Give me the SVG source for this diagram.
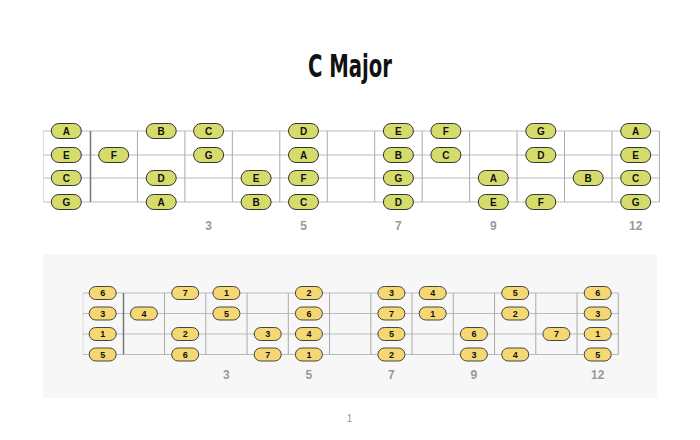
<svg xmlns="http://www.w3.org/2000/svg" width="700" height="440" viewBox="0 0 700 440">
<style>
.title{font-family:"DejaVu Sans Condensed","Liberation Sans Narrow","Liberation Sans",sans-serif;font-stretch:condensed;font-weight:bold;font-size:32px;fill:#111;text-anchor:middle}
.str{stroke:#bbb;stroke-width:1}
.fret{stroke:#aaa;stroke-width:1}
.nut{stroke:#777;stroke-width:1.5}
.end{stroke:#ddd;stroke-width:1}
.fn{font-family:"Liberation Sans",Arial,sans-serif;font-weight:bold;font-size:12px;fill:#999;text-anchor:middle}
.pa rect{fill:#d6dc6c;stroke:#333;stroke-width:1}
.pa text{font-family:"Liberation Sans",Arial,sans-serif;font-weight:bold;font-size:10px;fill:#111;text-anchor:middle}
.pb rect{fill:#f6d873;stroke:#444;stroke-width:1}
.pb text{font-family:"Liberation Sans",Arial,sans-serif;font-weight:bold;font-size:9px;fill:#111;text-anchor:middle}
.pg{font-family:"Liberation Sans",Arial,sans-serif;font-size:10px;fill:#999;text-anchor:middle}
</style>
<rect x="0" y="0" width="700" height="440" fill="#fff"/>
<text class="title" x="350" y="77" textLength="84" lengthAdjust="spacingAndGlyphs">C Major</text>

<!-- top fretboard -->
<g id="top-board">
<line class="end" x1="43.5" y1="131" x2="43.5" y2="202"/>
<line class="str" x1="43.5" y1="131" x2="659.4" y2="131"/>
<line class="str" x1="43.5" y1="155" x2="659.4" y2="155"/>
<line class="str" x1="43.5" y1="178" x2="659.4" y2="178"/>
<line class="str" x1="43.5" y1="202" x2="659.4" y2="202"/>
<line class="nut" x1="90.5" y1="131" x2="90.5" y2="202"/>
<line class="fret" x1="137.45" y1="131" x2="137.45" y2="202"/>
<line class="fret" x1="184.9" y1="131" x2="184.9" y2="202"/>
<line class="fret" x1="232.35" y1="131" x2="232.35" y2="202"/>
<line class="fret" x1="279.8" y1="131" x2="279.8" y2="202"/>
<line class="fret" x1="327.25" y1="131" x2="327.25" y2="202"/>
<line class="fret" x1="374.7" y1="131" x2="374.7" y2="202"/>
<line class="fret" x1="422.15" y1="131" x2="422.15" y2="202"/>
<line class="fret" x1="469.6" y1="131" x2="469.6" y2="202"/>
<line class="fret" x1="517.05" y1="131" x2="517.05" y2="202"/>
<line class="fret" x1="564.5" y1="131" x2="564.5" y2="202"/>
<line class="fret" x1="611.95" y1="131" x2="611.95" y2="202"/>
<line class="fret" x1="659.4" y1="131" x2="659.4" y2="202"/>
<text class="fn" x="208.6" y="230">3</text>
<text class="fn" x="303.5" y="230">5</text>
<text class="fn" x="398.4" y="230">7</text>
<text class="fn" x="493.3" y="230">9</text>
<text class="fn" x="635.7" y="230">12</text>
</g>

<g class="pa">
<g id="t1-0" transform="translate(66.3,131)"><rect x="-15" y="-7.5" width="30" height="15" rx="7.5"/><text y="3.6">A</text></g>
<g id="t1-2" transform="translate(161.2,131)"><rect x="-15" y="-7.5" width="30" height="15" rx="7.5"/><text y="3.6">B</text></g>
<g id="t1-3" transform="translate(208.6,131)"><rect x="-15" y="-7.5" width="30" height="15" rx="7.5"/><text y="3.6">C</text></g>
<g id="t1-5" transform="translate(303.5,131)"><rect x="-15" y="-7.5" width="30" height="15" rx="7.5"/><text y="3.6">D</text></g>
<g id="t1-7" transform="translate(398.4,131)"><rect x="-15" y="-7.5" width="30" height="15" rx="7.5"/><text y="3.6">E</text></g>
<g id="t1-8" transform="translate(445.9,131)"><rect x="-15" y="-7.5" width="30" height="15" rx="7.5"/><text y="3.6">F</text></g>
<g id="t1-10" transform="translate(540.8,131)"><rect x="-15" y="-7.5" width="30" height="15" rx="7.5"/><text y="3.6">G</text></g>
<g id="t1-12" transform="translate(635.7,131)"><rect x="-15" y="-7.5" width="30" height="15" rx="7.5"/><text y="3.6">A</text></g>

<g id="t2-0" transform="translate(66.3,155)"><rect x="-15" y="-7.5" width="30" height="15" rx="7.5"/><text y="3.6">E</text></g>
<g id="t2-1" transform="translate(113.7,155)"><rect x="-15" y="-7.5" width="30" height="15" rx="7.5"/><text y="3.6">F</text></g>
<g id="t2-3" transform="translate(208.6,155)"><rect x="-15" y="-7.5" width="30" height="15" rx="7.5"/><text y="3.6">G</text></g>
<g id="t2-5" transform="translate(303.5,155)"><rect x="-15" y="-7.5" width="30" height="15" rx="7.5"/><text y="3.6">A</text></g>
<g id="t2-7" transform="translate(398.4,155)"><rect x="-15" y="-7.5" width="30" height="15" rx="7.5"/><text y="3.6">B</text></g>
<g id="t2-8" transform="translate(445.9,155)"><rect x="-15" y="-7.5" width="30" height="15" rx="7.5"/><text y="3.6">C</text></g>
<g id="t2-10" transform="translate(540.8,155)"><rect x="-15" y="-7.5" width="30" height="15" rx="7.5"/><text y="3.6">D</text></g>
<g id="t2-12" transform="translate(635.7,155)"><rect x="-15" y="-7.5" width="30" height="15" rx="7.5"/><text y="3.6">E</text></g>

<g id="t3-0" transform="translate(66.3,178)"><rect x="-15" y="-7.5" width="30" height="15" rx="7.5"/><text y="3.6">C</text></g>
<g id="t3-2" transform="translate(161.2,178)"><rect x="-15" y="-7.5" width="30" height="15" rx="7.5"/><text y="3.6">D</text></g>
<g id="t3-4" transform="translate(256.1,178)"><rect x="-15" y="-7.5" width="30" height="15" rx="7.5"/><text y="3.6">E</text></g>
<g id="t3-5" transform="translate(303.5,178)"><rect x="-15" y="-7.5" width="30" height="15" rx="7.5"/><text y="3.6">F</text></g>
<g id="t3-7" transform="translate(398.4,178)"><rect x="-15" y="-7.5" width="30" height="15" rx="7.5"/><text y="3.6">G</text></g>
<g id="t3-9" transform="translate(493.3,178)"><rect x="-15" y="-7.5" width="30" height="15" rx="7.5"/><text y="3.6">A</text></g>
<g id="t3-11" transform="translate(588.2,178)"><rect x="-15" y="-7.5" width="30" height="15" rx="7.5"/><text y="3.6">B</text></g>
<g id="t3-12" transform="translate(635.7,178)"><rect x="-15" y="-7.5" width="30" height="15" rx="7.5"/><text y="3.6">C</text></g>

<g id="t4-0" transform="translate(66.3,202)"><rect x="-15" y="-7.5" width="30" height="15" rx="7.5"/><text y="3.6">G</text></g>
<g id="t4-2" transform="translate(161.2,202)"><rect x="-15" y="-7.5" width="30" height="15" rx="7.5"/><text y="3.6">A</text></g>
<g id="t4-4" transform="translate(256.1,202)"><rect x="-15" y="-7.5" width="30" height="15" rx="7.5"/><text y="3.6">B</text></g>
<g id="t4-5" transform="translate(303.5,202)"><rect x="-15" y="-7.5" width="30" height="15" rx="7.5"/><text y="3.6">C</text></g>
<g id="t4-7" transform="translate(398.4,202)"><rect x="-15" y="-7.5" width="30" height="15" rx="7.5"/><text y="3.6">D</text></g>
<g id="t4-9" transform="translate(493.3,202)"><rect x="-15" y="-7.5" width="30" height="15" rx="7.5"/><text y="3.6">E</text></g>
<g id="t4-10" transform="translate(540.8,202)"><rect x="-15" y="-7.5" width="30" height="15" rx="7.5"/><text y="3.6">F</text></g>
<g id="t4-12" transform="translate(635.7,202)"><rect x="-15" y="-7.5" width="30" height="15" rx="7.5"/><text y="3.6">G</text></g>
</g>

<!-- bottom panel -->
<rect x="43" y="254" width="614" height="144" fill="#f7f7f7"/>
<g id="bottom-board">
<line class="end" x1="83" y1="293" x2="83" y2="354.5"/>
<line class="str" x1="83" y1="293" x2="618.3" y2="293"/>
<line class="str" x1="83" y1="313.5" x2="618.3" y2="313.5"/>
<line class="str" x1="83" y1="334" x2="618.3" y2="334"/>
<line class="str" x1="83" y1="354.5" x2="618.3" y2="354.5"/>
<line class="nut" x1="123.5" y1="293" x2="123.5" y2="354.5"/>
<line class="fret" x1="164.55" y1="293" x2="164.55" y2="354.5"/>
<line class="fret" x1="205.8" y1="293" x2="205.8" y2="354.5"/>
<line class="fret" x1="247.05" y1="293" x2="247.05" y2="354.5"/>
<line class="fret" x1="288.3" y1="293" x2="288.3" y2="354.5"/>
<line class="fret" x1="329.55" y1="293" x2="329.55" y2="354.5"/>
<line class="fret" x1="370.8" y1="293" x2="370.8" y2="354.5"/>
<line class="fret" x1="412.05" y1="293" x2="412.05" y2="354.5"/>
<line class="fret" x1="453.3" y1="293" x2="453.3" y2="354.5"/>
<line class="fret" x1="494.55" y1="293" x2="494.55" y2="354.5"/>
<line class="fret" x1="535.8" y1="293" x2="535.8" y2="354.5"/>
<line class="fret" x1="577.05" y1="293" x2="577.05" y2="354.5"/>
<line class="fret" x1="618.3" y1="293" x2="618.3" y2="354.5"/>
<text class="fn" x="226.4" y="379">3</text>
<text class="fn" x="308.9" y="379">5</text>
<text class="fn" x="391.4" y="379">7</text>
<text class="fn" x="473.9" y="379">9</text>
<text class="fn" x="597.7" y="379">12</text>
</g>

<g class="pb">
<g id="b1-0" transform="translate(102.7,293)"><rect x="-13.5" y="-6.5" width="27" height="13" rx="6.5"/><text y="3.2">6</text></g>
<g id="b1-2" transform="translate(185.2,293)"><rect x="-13.5" y="-6.5" width="27" height="13" rx="6.5"/><text y="3.2">7</text></g>
<g id="b1-3" transform="translate(226.4,293)"><rect x="-13.5" y="-6.5" width="27" height="13" rx="6.5"/><text y="3.2">1</text></g>
<g id="b1-5" transform="translate(308.9,293)"><rect x="-13.5" y="-6.5" width="27" height="13" rx="6.5"/><text y="3.2">2</text></g>
<g id="b1-7" transform="translate(391.4,293)"><rect x="-13.5" y="-6.5" width="27" height="13" rx="6.5"/><text y="3.2">3</text></g>
<g id="b1-8" transform="translate(432.7,293)"><rect x="-13.5" y="-6.5" width="27" height="13" rx="6.5"/><text y="3.2">4</text></g>
<g id="b1-10" transform="translate(515.2,293)"><rect x="-13.5" y="-6.5" width="27" height="13" rx="6.5"/><text y="3.2">5</text></g>
<g id="b1-12" transform="translate(597.7,293)"><rect x="-13.5" y="-6.5" width="27" height="13" rx="6.5"/><text y="3.2">6</text></g>

<g id="b2-0" transform="translate(102.7,313.5)"><rect x="-13.5" y="-6.5" width="27" height="13" rx="6.5"/><text y="3.2">3</text></g>
<g id="b2-1" transform="translate(143.9,313.5)"><rect x="-13.5" y="-6.5" width="27" height="13" rx="6.5"/><text y="3.2">4</text></g>
<g id="b2-3" transform="translate(226.4,313.5)"><rect x="-13.5" y="-6.5" width="27" height="13" rx="6.5"/><text y="3.2">5</text></g>
<g id="b2-5" transform="translate(308.9,313.5)"><rect x="-13.5" y="-6.5" width="27" height="13" rx="6.5"/><text y="3.2">6</text></g>
<g id="b2-7" transform="translate(391.4,313.5)"><rect x="-13.5" y="-6.5" width="27" height="13" rx="6.5"/><text y="3.2">7</text></g>
<g id="b2-8" transform="translate(432.7,313.5)"><rect x="-13.5" y="-6.5" width="27" height="13" rx="6.5"/><text y="3.2">1</text></g>
<g id="b2-10" transform="translate(515.2,313.5)"><rect x="-13.5" y="-6.5" width="27" height="13" rx="6.5"/><text y="3.2">2</text></g>
<g id="b2-12" transform="translate(597.7,313.5)"><rect x="-13.5" y="-6.5" width="27" height="13" rx="6.5"/><text y="3.2">3</text></g>

<g id="b3-0" transform="translate(102.7,334)"><rect x="-13.5" y="-6.5" width="27" height="13" rx="6.5"/><text y="3.2">1</text></g>
<g id="b3-2" transform="translate(185.2,334)"><rect x="-13.5" y="-6.5" width="27" height="13" rx="6.5"/><text y="3.2">2</text></g>
<g id="b3-4" transform="translate(267.7,334)"><rect x="-13.5" y="-6.5" width="27" height="13" rx="6.5"/><text y="3.2">3</text></g>
<g id="b3-5" transform="translate(308.9,334)"><rect x="-13.5" y="-6.5" width="27" height="13" rx="6.5"/><text y="3.2">4</text></g>
<g id="b3-7" transform="translate(391.4,334)"><rect x="-13.5" y="-6.5" width="27" height="13" rx="6.5"/><text y="3.2">5</text></g>
<g id="b3-9" transform="translate(473.9,334)"><rect x="-13.5" y="-6.5" width="27" height="13" rx="6.5"/><text y="3.2">6</text></g>
<g id="b3-11" transform="translate(556.4,334)"><rect x="-13.5" y="-6.5" width="27" height="13" rx="6.5"/><text y="3.2">7</text></g>
<g id="b3-12" transform="translate(597.7,334)"><rect x="-13.5" y="-6.5" width="27" height="13" rx="6.5"/><text y="3.2">1</text></g>

<g id="b4-0" transform="translate(102.7,354.5)"><rect x="-13.5" y="-6.5" width="27" height="13" rx="6.5"/><text y="3.2">5</text></g>
<g id="b4-2" transform="translate(185.2,354.5)"><rect x="-13.5" y="-6.5" width="27" height="13" rx="6.5"/><text y="3.2">6</text></g>
<g id="b4-4" transform="translate(267.7,354.5)"><rect x="-13.5" y="-6.5" width="27" height="13" rx="6.5"/><text y="3.2">7</text></g>
<g id="b4-5" transform="translate(308.9,354.5)"><rect x="-13.5" y="-6.5" width="27" height="13" rx="6.5"/><text y="3.2">1</text></g>
<g id="b4-7" transform="translate(391.4,354.5)"><rect x="-13.5" y="-6.5" width="27" height="13" rx="6.5"/><text y="3.2">2</text></g>
<g id="b4-9" transform="translate(473.9,354.5)"><rect x="-13.5" y="-6.5" width="27" height="13" rx="6.5"/><text y="3.2">3</text></g>
<g id="b4-10" transform="translate(515.2,354.5)"><rect x="-13.5" y="-6.5" width="27" height="13" rx="6.5"/><text y="3.2">4</text></g>
<g id="b4-12" transform="translate(597.7,354.5)"><rect x="-13.5" y="-6.5" width="27" height="13" rx="6.5"/><text y="3.2">5</text></g>
</g>

<text class="pg" x="349.5" y="422">1</text>
</svg>
